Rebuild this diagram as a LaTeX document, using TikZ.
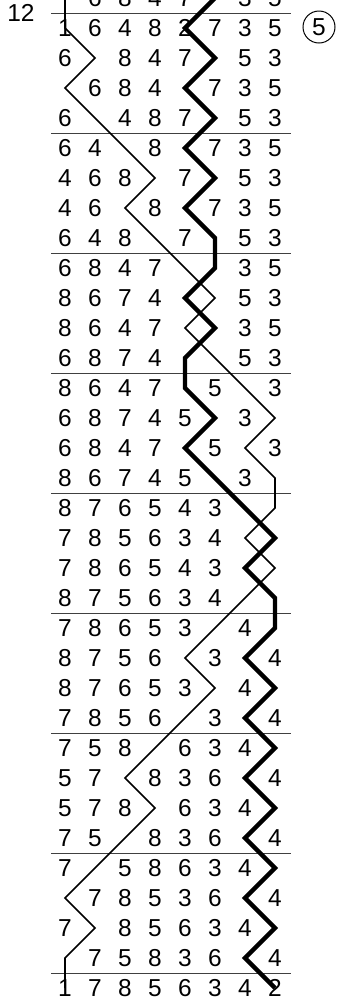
\documentclass[tikz,border=0pt]{standalone}
\usepackage{fontspec}
\setmainfont{Liberation Sans}
\begin{document}
\begin{tikzpicture}[x=1pt,y=-1pt,
  digit/.style={inner sep=0pt,font=\fontsize{24.5}{26}\selectfont},
  sepline/.style={line width=1pt,draw=black!75},
  trebleline/.style={line width=1.6pt,line join=miter},
  bellline/.style={line width=4.3pt,line join=miter},
  leadmark/.style={draw,circle,line width=1pt,minimum size=32pt,inner sep=0pt,font=\fontsize{24.5}{26}\selectfont}]
\clip (0,0) rectangle (341,997);
% grid coordinates
\foreach \r in {0,...,33}{
  \foreach \c in {1,...,8}{
    \coordinate (p-\r-\c) at ({65+30*(\c-1)},{-2+30*\r});
  }
}
% separators
\foreach \k in {0,...,8}{
  \coordinate (sL-\k) at (51,{13+120*\k});
  \coordinate (sR-\k) at (291,{13+120*\k});
  \draw[sepline] (sL-\k) -- (sR-\k);
}
% paths
\draw[trebleline] (p-0-1) \foreach \c [count=\r] in {1,2,1,2,3,4,3,4,5,6,5,6,7,8,7,8,8,7,8,7,6,5,6,5,4,3,4,3,2,1,2,1,1}{ -- (p-\r-\c) };
\draw[bellline] (p-0-6) \foreach \c [count=\r] in {5,6,5,6,5,6,5,6,6,5,6,5,5,6,5,6,7,8,7,8,8,7,8,7,8,7,8,7,8,7,8,7,8}{ -- (p-\r-\c) };
% digits (0 = not printed)
\foreach \row [count=\r from 0] in {
 {0,6,8,4,7,0,3,5},
 {1,6,4,8,2,7,3,5},
 {6,0,8,4,7,0,5,3},
 {0,6,8,4,0,7,3,5},
 {6,0,4,8,7,0,5,3},
 {6,4,0,8,0,7,3,5},
 {4,6,8,0,7,0,5,3},
 {4,6,0,8,0,7,3,5},
 {6,4,8,0,7,0,5,3},
 {6,8,4,7,0,0,3,5},
 {8,6,7,4,0,0,5,3},
 {8,6,4,7,0,0,3,5},
 {6,8,7,4,0,0,5,3},
 {8,6,4,7,0,5,0,3},
 {6,8,7,4,5,0,3,0},
 {6,8,4,7,0,5,0,3},
 {8,6,7,4,5,0,3,0},
 {8,7,6,5,4,3,0,0},
 {7,8,5,6,3,4,0,0},
 {7,8,6,5,4,3,0,0},
 {8,7,5,6,3,4,0,0},
 {7,8,6,5,3,0,4,0},
 {8,7,5,6,0,3,0,4},
 {8,7,6,5,3,0,4,0},
 {7,8,5,6,0,3,0,4},
 {7,5,8,0,6,3,4,0},
 {5,7,0,8,3,6,0,4},
 {5,7,8,0,6,3,4,0},
 {7,5,0,8,3,6,0,4},
 {7,0,5,8,6,3,4,0},
 {0,7,8,5,3,6,0,4},
 {7,0,8,5,6,3,4,0},
 {0,7,5,8,3,6,0,4},
 {1,7,8,5,6,3,4,2}}{
  \foreach \d [count=\c] in \row {
    \ifnum\d>0
      \node[digit] (n-\r-\c) at (p-\r-\c) {\d};
    \fi
  }
}
\node[digit] (lbl) at (21,13) {12};
\node[leadmark] (lead) at (319,27) {5};
\end{tikzpicture}
\end{document}
